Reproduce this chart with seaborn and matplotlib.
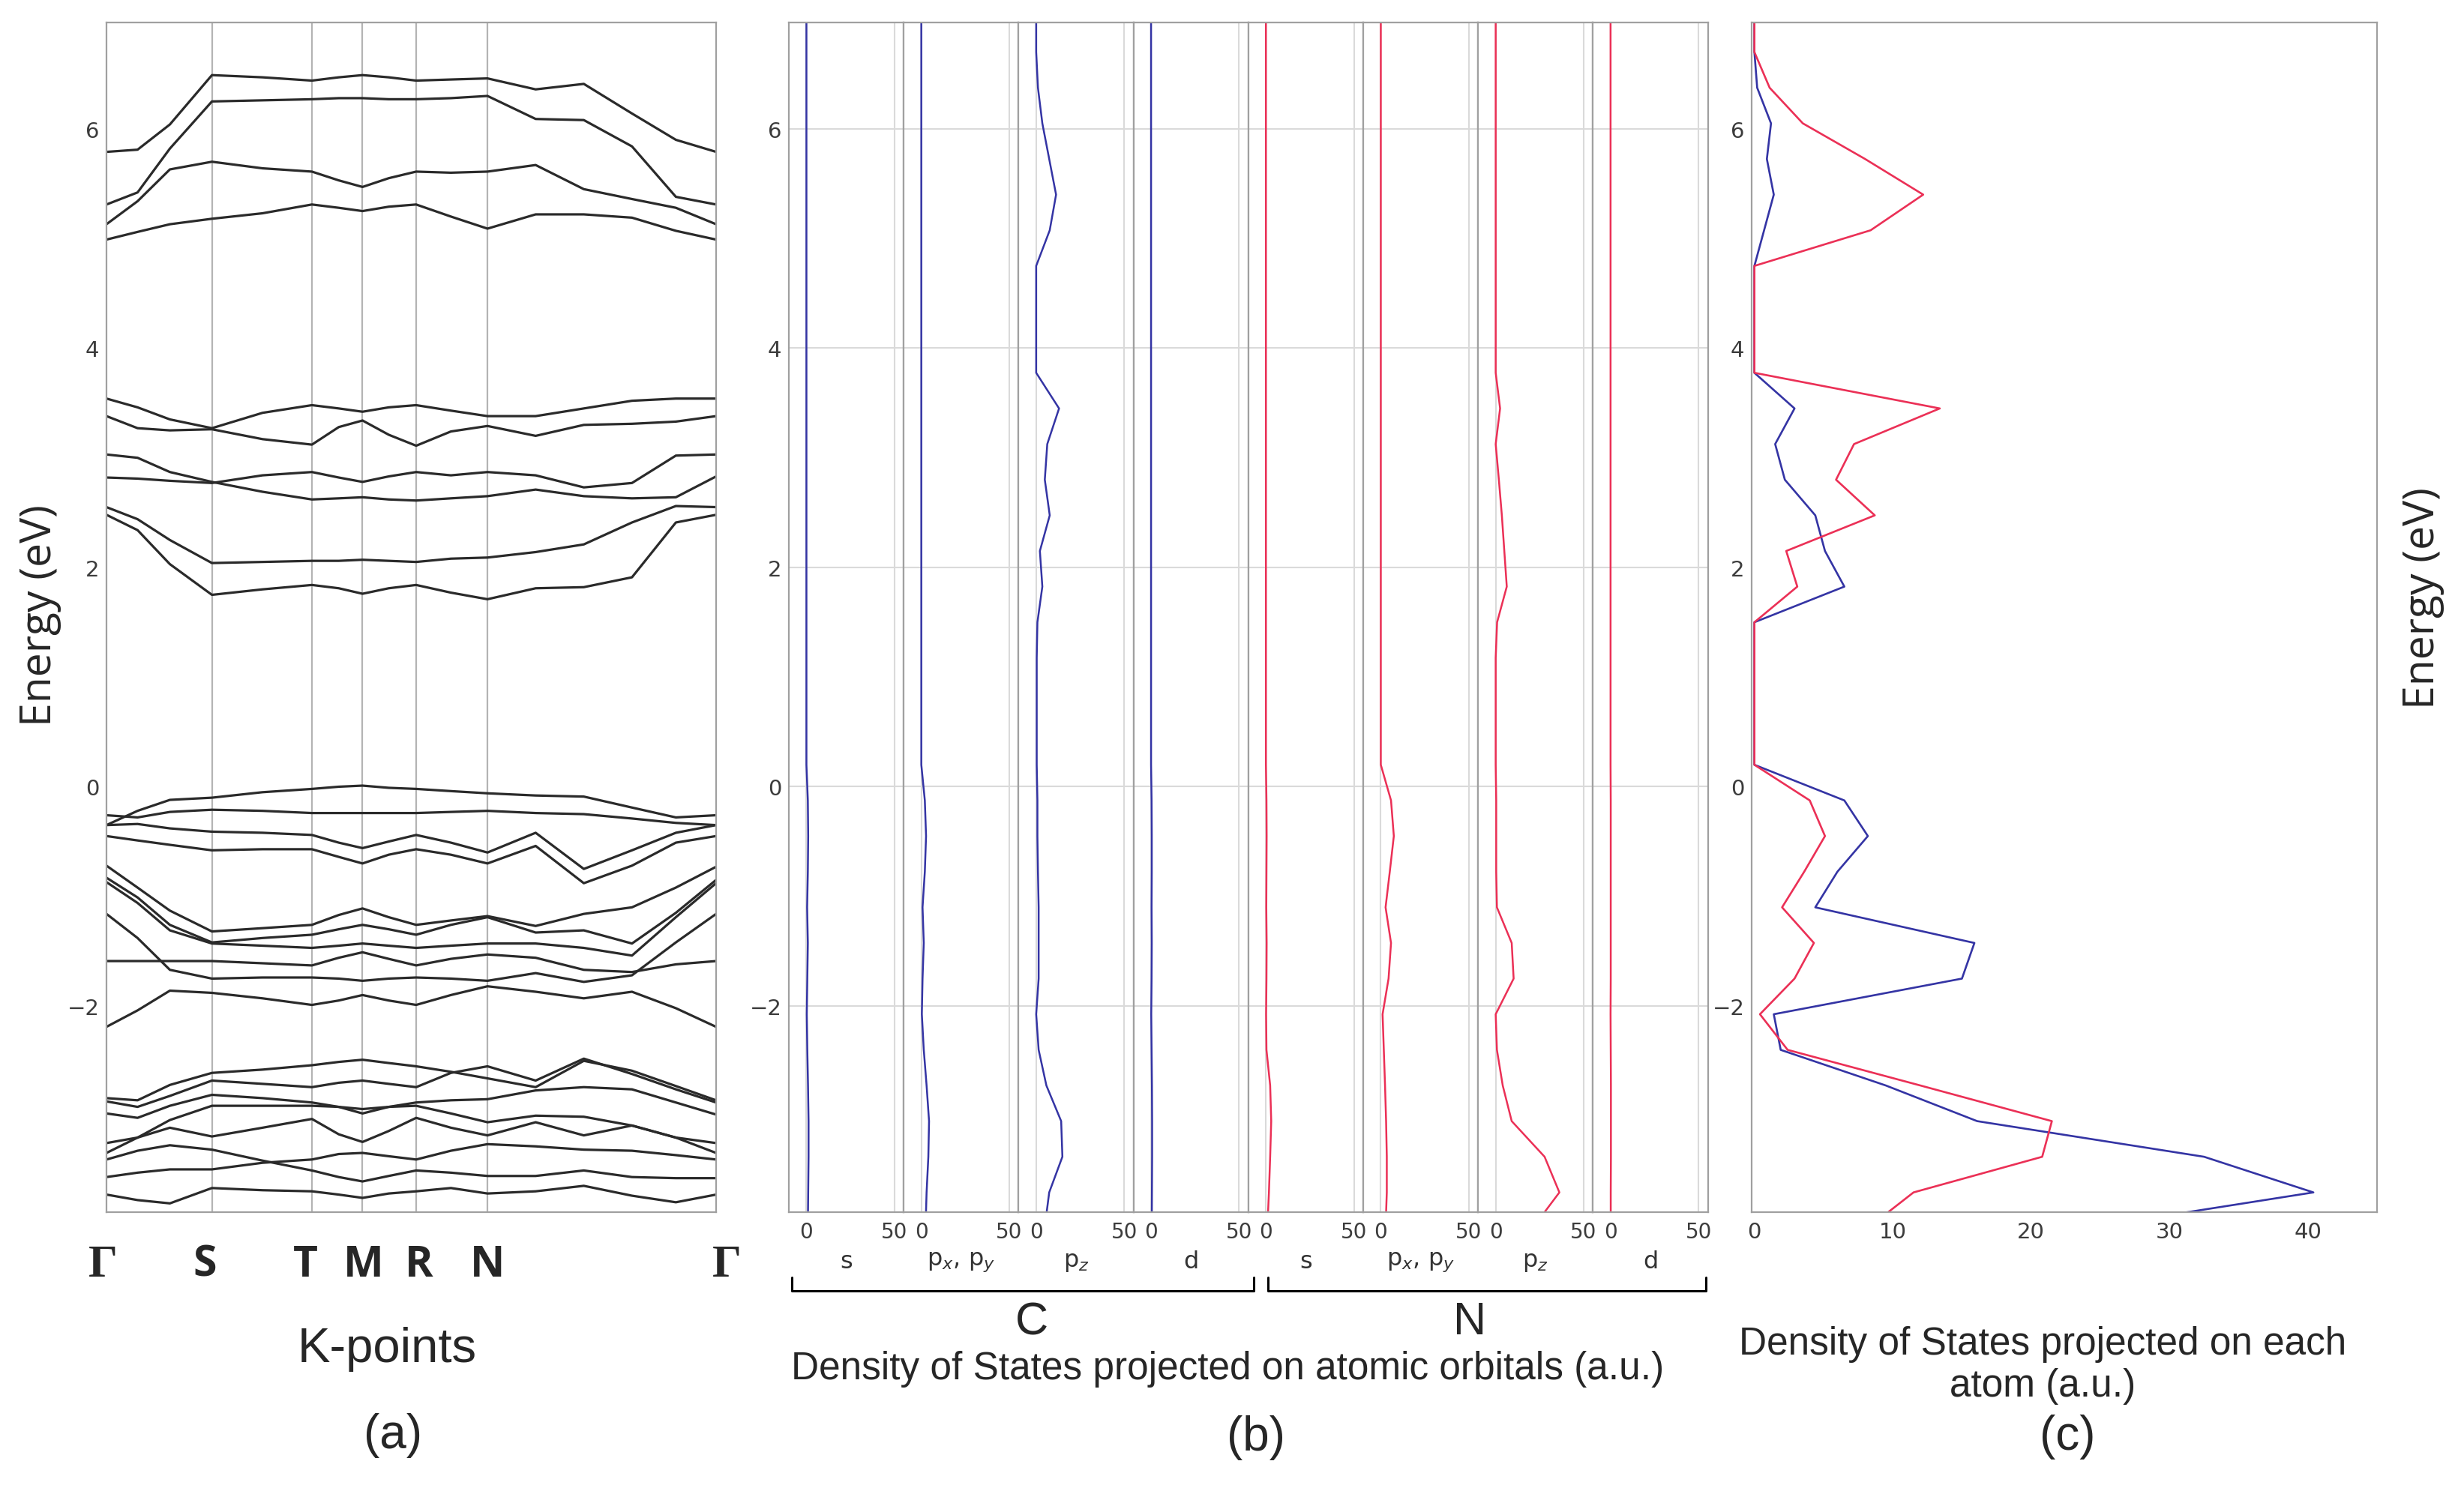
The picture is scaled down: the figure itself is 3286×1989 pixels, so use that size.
import matplotlib
matplotlib.use("Agg")
import matplotlib.pyplot as plt
from matplotlib.lines import Line2D
import matplotlib.transforms as mtransforms
import numpy as np
import pandas as pd
import seaborn as sns

sns.set_style("white")
plt.rcParams['font.family'] = ['DejaVu Sans']

# ---------------- band structure (panel a) ----------------
# positions along the k-path (fraction of path length) where energies were read
kpath = [0.0, 0.051, 0.104, 0.173, 0.256, 0.337, 0.381, 0.420, 0.463, 0.508,
         0.565, 0.625, 0.704, 0.783, 0.862, 0.934, 1.0]
kpoints = [0.0, 0.173, 0.337, 0.420, 0.508, 0.625, 1.0]
klabels = ["Γ", "S", "T", "M", "R", "N", "Γ"]

bands = {
    "U1": [5.79, 5.81, 6.04, 6.49, 6.47, 6.44, 6.47, 6.49, 6.47, 6.44, 6.45, 6.46, 6.36, 6.41, 6.14, 5.90, 5.79],
    "U2": [5.31, 5.42, 5.82, 6.25, 6.26, 6.27, 6.28, 6.28, 6.27, 6.27, 6.28, 6.30, 6.09, 6.08, 5.84, 5.38, 5.31],
    "U3": [5.13, 5.34, 5.63, 5.70, 5.64, 5.61, 5.53, 5.47, 5.55, 5.61, 5.60, 5.61, 5.67, 5.45, 5.36, 5.28, 5.13],
    "U4": [4.99, 5.06, 5.13, 5.18, 5.23, 5.31, 5.28, 5.25, 5.29, 5.31, 5.20, 5.09, 5.22, 5.22, 5.19, 5.07, 4.99],
    "M1": [3.54, 3.46, 3.35, 3.27, 3.41, 3.48, 3.45, 3.42, 3.46, 3.48, 3.43, 3.38, 3.38, 3.45, 3.52, 3.54, 3.54],
    "M2": [3.38, 3.27, 3.25, 3.26, 3.17, 3.12, 3.28, 3.34, 3.21, 3.11, 3.24, 3.29, 3.20, 3.30, 3.31, 3.33, 3.38],
    "M3": [3.03, 3.00, 2.87, 2.78, 2.69, 2.62, 2.63, 2.64, 2.62, 2.61, 2.63, 2.65, 2.71, 2.65, 2.63, 2.64, 2.83],
    "M4": [2.82, 2.81, 2.79, 2.77, 2.84, 2.87, 2.82, 2.78, 2.83, 2.87, 2.84, 2.87, 2.84, 2.73, 2.77, 3.02, 3.03],
    "M5": [2.55, 2.44, 2.25, 2.04, 2.05, 2.06, 2.06, 2.07, 2.06, 2.05, 2.08, 2.09, 2.14, 2.21, 2.41, 2.56, 2.55],
    "M6": [2.48, 2.34, 2.03, 1.75, 1.80, 1.84, 1.81, 1.76, 1.81, 1.84, 1.77, 1.71, 1.81, 1.82, 1.91, 2.41, 2.48],
    "V1": [-0.35, -0.22, -0.12, -0.10, -0.05, -0.02, 0.00, 0.01, -0.01, -0.02, -0.04, -0.06, -0.08, -0.09, -0.19, -0.28, -0.26],
    "V2": [-0.26, -0.28, -0.23, -0.21, -0.22, -0.24, -0.24, -0.24, -0.24, -0.24, -0.23, -0.22, -0.24, -0.25, -0.29, -0.33, -0.35],
    "V3": [-0.35, -0.34, -0.38, -0.41, -0.42, -0.44, -0.51, -0.56, -0.50, -0.44, -0.51, -0.60, -0.42, -0.75, -0.58, -0.42, -0.35],
    "V4": [-0.45, -0.49, -0.53, -0.58, -0.57, -0.57, -0.64, -0.70, -0.62, -0.57, -0.62, -0.70, -0.54, -0.88, -0.72, -0.51, -0.45],
    "W1": [-0.72, -0.92, -1.13, -1.32, -1.29, -1.26, -1.17, -1.11, -1.19, -1.26, -1.22, -1.18, -1.27, -1.16, -1.10, -0.92, -0.73],
    "W2": [-0.83, -1.01, -1.26, -1.42, -1.38, -1.35, -1.30, -1.26, -1.30, -1.35, -1.26, -1.19, -1.33, -1.31, -1.43, -1.15, -0.85],
    "W3": [-0.87, -1.06, -1.31, -1.43, -1.45, -1.47, -1.45, -1.43, -1.45, -1.47, -1.45, -1.43, -1.43, -1.47, -1.54, -1.19, -0.88],
    "W4": [-1.16, -1.38, -1.67, -1.75, -1.74, -1.74, -1.75, -1.77, -1.75, -1.74, -1.75, -1.77, -1.70, -1.78, -1.72, -1.42, -1.16],
    "W5": [-1.59, -1.59, -1.59, -1.59, -1.61, -1.63, -1.56, -1.51, -1.57, -1.63, -1.57, -1.53, -1.56, -1.67, -1.69, -1.62, -1.59],
    "W6": [-2.19, -2.04, -1.86, -1.88, -1.93, -1.99, -1.95, -1.90, -1.95, -1.99, -1.90, -1.82, -1.87, -1.93, -1.87, -2.02, -2.19],
    "L1": [-2.84, -2.86, -2.72, -2.61, -2.58, -2.54, -2.51, -2.49, -2.52, -2.55, -2.60, -2.66, -2.74, -2.50, -2.59, -2.73, -2.86],
    "L2": [-2.87, -2.92, -2.82, -2.68, -2.71, -2.74, -2.70, -2.68, -2.71, -2.74, -2.61, -2.55, -2.68, -2.48, -2.62, -2.76, -2.88],
    "L3": [-2.98, -3.02, -2.91, -2.81, -2.84, -2.88, -2.92, -2.94, -2.92, -2.88, -2.86, -2.85, -2.77, -2.74, -2.76, -2.88, -2.99],
    "L4": [-3.25, -3.20, -3.04, -2.91, -2.91, -2.91, -2.92, -2.98, -2.92, -2.91, -2.98, -3.06, -3.00, -3.01, -3.09, -3.20, -3.25],
    "L5": [-3.34, -3.20, -3.11, -3.19, -3.11, -3.03, -3.17, -3.24, -3.14, -3.02, -3.11, -3.18, -3.06, -3.18, -3.09, -3.20, -3.34],
    "L6": [-3.40, -3.32, -3.27, -3.31, -3.41, -3.50, -3.56, -3.60, -3.55, -3.50, -3.52, -3.55, -3.55, -3.50, -3.56, -3.57, -3.57],
    "L7": [-3.56, -3.52, -3.49, -3.49, -3.43, -3.40, -3.35, -3.34, -3.37, -3.40, -3.32, -3.26, -3.28, -3.31, -3.32, -3.36, -3.40],
    "L8": [-3.72, -3.77, -3.80, -3.66, -3.68, -3.69, -3.72, -3.75, -3.71, -3.69, -3.66, -3.71, -3.69, -3.64, -3.73, -3.79, -3.72],
}

# ---------------- density of states (panels b, c) ----------------
energy = [7.025, 6.70, 6.375, 6.05, 5.725, 5.40, 5.075, 4.75, 4.425, 4.10, 3.775,
          3.45, 3.125, 2.80, 2.475, 2.15, 1.825, 1.50, 1.175, 0.85, 0.525, 0.20,
          -0.125, -0.45, -0.775, -1.10, -1.425, -1.75, -2.075, -2.40, -2.725,
          -3.05, -3.375, -3.70, -4.025]

C_s = [0, 0, 0, 0, 0, 0, 0, 0, 0, 0, 0, 0, 0, 0, 0, 0, 0, 0, 0, 0, 0, 0,
       0.8, 1.0, 0.8, 0.4, 0.8, 0.5, 0.2, 0.5, 0.9, 1.2, 1.2, 1.0, 0.8]
C_pxpy = [0, 0, 0, 0, 0, 0, 0, 0, 0, 0, 0, 0, 0, 0, 0, 0, 0, 0, 0, 0, 0, 0,
          2.0, 2.7, 2.0, 0.7, 1.4, 0.7, 0.3, 1.4, 3.0, 4.4, 4.0, 3.0, 2.4]
C_pz = [0, 0, 1.0, 3.5, 7.4, 11.3, 7.7, 0, 0, 0, 0, 13.0, 6.3, 4.9, 7.7, 2.1, 3.5,
        0.7, 0.3, 0.3, 0.3, 0.3, 0.7, 0.7, 1.0, 1.4, 1.4, 1.4, 0, 1.4, 5.8, 14.2,
        14.9, 7.4, 4.8]
C_d = [0, 0, 0, 0, 0, 0, 0, 0, 0, 0, 0, 0, 0, 0, 0, 0, 0, 0, 0, 0, 0, 0,
       0.3, 0.4, 0.4, 0.3, 0.4, 0.3, 0.1, 0.3, 0.5, 0.6, 0.6, 0.5, 0.4]
N_s = [0, 0, 0, 0, 0, 0, 0, 0, 0, 0, 0, 0, 0, 0, 0, 0, 0, 0, 0, 0, 0, 0,
       0.3, 0.4, 0.3, 0.2, 0.4, 0.3, 0.1, 0.3, 2.4, 3.0, 2.4, 1.7, 0.8]
N_pxpy = [0, 0, 0, 0, 0, 0, 0, 0, 0, 0, 0, 0, 0, 0, 0, 0, 0, 0, 0, 0, 0, 0,
          5.8, 7.4, 5.1, 2.7, 5.8, 4.4, 1.0, 1.7, 2.4, 3.0, 3.4, 3.4, 2.7]
N_pz = [0, 0, 0, 0, 0, 0, 0, 0, 0, 0, 0, 2.5, 0, 1.8, 3.5, 4.9, 6.3, 0.8, 0, 0, 0, 0,
        0.3, 0.3, 0.3, 0.7, 9.1, 10.2, 0, 0.7, 4.0, 9.1, 27.8, 36.2, 21.0]
N_d = [0, 0, 0, 0, 0, 0, 0, 0, 0, 0, 0, 0, 0, 0, 0, 0, 0, 0, 0, 0, 0, 0,
       0.1, 0.1, 0.1, 0.1, 0.1, 0.1, 0, 0.1, 0.2, 0.2, 0.2, 0.1, 0.1]

dos_C = [0, 0, 0.2, 1.2, 0.9, 1.4, 0.7, 0, 0, 0, 0, 2.9, 1.5, 2.2, 4.4, 5.1, 6.5,
         0, 0, 0, 0, 0, 6.5, 8.2, 6.0, 4.4, 15.9, 15.0, 1.4, 1.9, 9.5, 16.1, 32.5,
         40.4, 24.0]
dos_N = [0, 0, 1.1, 3.5, 8.0, 12.2, 8.4, 0, 0, 0, 0, 13.4, 7.2, 5.9, 8.7, 2.3, 3.1,
         0, 0, 0, 0, 0, 4.0, 5.1, 3.6, 2.0, 4.3, 2.9, 0.4, 2.4, 12.0, 21.5, 20.8,
         11.5, 8.2]

orbitals = [("s", C_s, "C"), ("p$_x$, p$_y$", C_pxpy, "C"), ("p$_z$", C_pz, "C"), ("d", C_d, "C"),
            ("s", N_s, "N"), ("p$_x$, p$_y$", N_pxpy, "N"), ("p$_z$", N_pz, "N"), ("d", N_d, "N")]

blue = "#3434a4"
red = "#eb3056"
band_col = "#2a2a2a"
spine_col = "#a0a0a0"
tick_col = "#3c3c3c"
ylim = (-3.88, 6.97)
yt = [-2, 0, 2, 4, 6]

W, H = 3286, 1990
fig = plt.figure(figsize=(W / 100, H / 100), dpi=100)
top, bot = 31, 1618


def box(x0, x1):
    return [x0 / W, 1 - bot / H, (x1 - x0) / W, (bot - top) / H]


def style(ax):
    for s in ax.spines.values():
        s.set_color(spine_col)
        s.set_linewidth(1.6)
    ax.tick_params(labelsize=21, labelcolor=tick_col, color="#555555",
                   length=3, width=1, pad=4)


# ---- panel (a) ----
ax_a = fig.add_axes(box(142, 955))
rows = [(name, k, e) for name, vals in bands.items() for k, e in zip(kpath, vals)]
df_bands = pd.DataFrame(rows, columns=["band", "k", "E"])
for kp in kpoints[1:-1]:
    ax_a.axvline(kp, color="#b4b4b4", lw=1.6, zorder=0)
sns.lineplot(data=df_bands, x="k", y="E", units="band", estimator=None, sort=False,
             color=band_col, linewidth=2.3, ax=ax_a, legend=False)
ax_a.set_xlim(0, 1)
ax_a.set_ylim(*ylim)
ax_a.set_xticks([])
ax_a.set_yticks(yt)
ax_a.set_xlabel("")
ax_a.set_ylabel("")
style(ax_a)
trans = mtransforms.blended_transform_factory(ax_a.transData, ax_a.transAxes)
klabel_x = [-0.006, 0.161, 0.327, 0.422, 0.512, 0.625, 1.017]
for lab, xx in zip(klabels, klabel_x):
    if lab == "Γ":
        ax_a.text(xx, -0.044, lab, transform=trans, ha="center", va="center",
                  fontsize=44, fontweight="bold", family="Liberation Serif")
    else:
        ax_a.text(xx, -0.044, lab, transform=trans, ha="center", va="center",
                  fontsize=41, fontweight="bold", family="Open Sans")

# ---- panel (b) ----
sub_w = 153.2
for i, (lab, vals, atom) in enumerate(orbitals):
    x0 = 1052 + sub_w * i
    ax = fig.add_axes(box(x0, x0 + sub_w))
    sns.lineplot(x=vals, y=energy, orient="y", sort=False, estimator=None,
                 color=blue if atom == "C" else red, linewidth=1.8, ax=ax)
    ax.set_xlim(-10, 55.3)
    ax.set_ylim(*ylim)
    ax.set_xticks([0, 50])
    ax.set_yticks(yt)
    ax.grid(True, color="#dadada", lw=1.5)
    ax.set_axisbelow(True)
    style(ax)
    ax.tick_params(axis="x", length=0, pad=9, labelsize=20)
    if i > 0:
        ax.set_yticklabels([])
    ax.text(0.5, -0.041, lab, transform=ax.transAxes, ha="center", va="center",
            fontsize=23, color="#333333")

# ---- panel (c) ----
ax_c = fig.add_axes(box(2336, 3170))
sns.lineplot(x=dos_C, y=energy, orient="y", sort=False, estimator=None,
             color=blue, linewidth=1.9, ax=ax_c)
sns.lineplot(x=dos_N, y=energy, orient="y", sort=False, estimator=None,
             color=red, linewidth=1.9, ax=ax_c)
ax_c.set_xlim(-0.2, 45)
ax_c.set_ylim(*ylim)
ax_c.set_xticks([0, 10, 20, 30, 40])
ax_c.set_yticks(yt)
style(ax_c)
ax_c.tick_params(axis="x", pad=6)

# ---- brackets under panel (b) ----
for xa, xb in [(1056, 1672), (1691, 2275)]:
    fig.add_artist(Line2D([xa / W, xa / W, xb / W, xb / W],
                          [1 - 1705 / H, 1 - 1723 / H, 1 - 1723 / H, 1 - 1705 / H],
                          color="black", lw=2.2, transform=fig.transFigure))


def ftext(x, y, s, size, **kw):
    fig.text(x / W, 1 - y / H, s, ha="center", va="center", fontsize=size, **kw)


sans = "Liberation Sans"
ftext(54, 821, "Energy (eV)", 41, rotation=90, family="Open Sans")
ftext(3231, 798, "Energy (eV)", 41, rotation=90, family="Open Sans")
ftext(516, 1800, "K-points", 47, family=sans)
ftext(524, 1915, "(a)", 46, family=sans)
ftext(1376, 1765, "C", 44, family=sans)
ftext(1960, 1765, "N", 44, family=sans)
ftext(1637, 1827, "Density of States projected on atomic orbitals (a.u.)", 37, family=sans)
ftext(1675, 1918, "(b)", 46, family=sans)
ftext(2724, 1794, "Density of States projected on each", 37, family=sans)
ftext(2724, 1850, "atom (a.u.)", 37, family=sans)
ftext(2757, 1917, "(c)", 46, family=sans)

fig.savefig("out.png", dpi=100, facecolor="white")
